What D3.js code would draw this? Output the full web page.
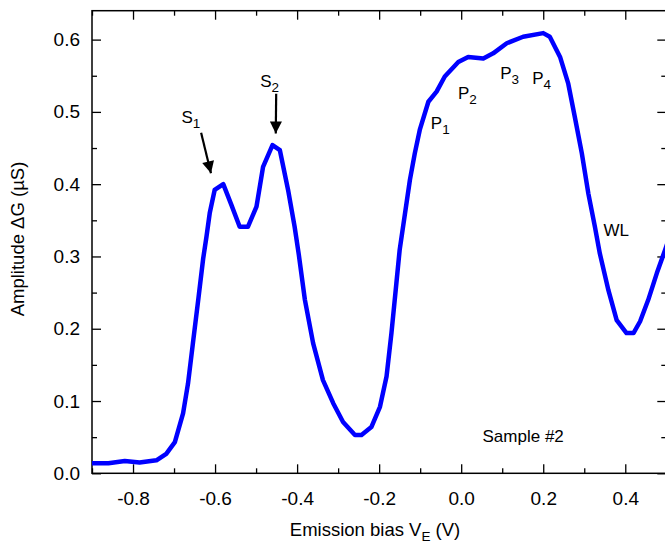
<!DOCTYPE html>
<html>
<head>
<meta charset="utf-8">
<script src="https://cdn.jsdelivr.net/npm/d3@7"></script>
<style>
    body { margin: 0; background: #fff; }
    svg { display: block; font-family: "Liberation Sans", Arial, sans-serif; }
    .axis path, .axis line { stroke: #000; stroke-width: 1.3; }
    .tick-label { font-size: 19px; fill: #000; }
    .title { font-size: 18.5px; fill: #000; }
    .note { font-size: 17px; fill: #000; }
</style>
</head>
<body>
<svg id="chart"></svg>
<script>
const MARGIN = { top: 10.7, right: -1, bottom: 72.7, left: 92 }
const width = 665, height = 546

// emission bias (V) and amplitude (uS)
const biasV = [-0.900, -0.860, -0.820, -0.784, -0.743, -0.719, -0.698, -0.678, -0.666, -0.654,
    -0.641, -0.629, -0.621, -0.613, -0.601, -0.580, -0.560, -0.540, -0.520, -0.499,
    -0.483, -0.460, -0.442, -0.422, -0.406, -0.396, -0.381, -0.361, -0.337, -0.312,
    -0.288, -0.259, -0.243, -0.219, -0.198, -0.182, -0.170, -0.158, -0.150, -0.125,
    -0.113, -0.101, -0.080, -0.060, -0.040, -0.007, 0.017, 0.054, 0.078, 0.111,
    0.151, 0.200, 0.216, 0.241, 0.261, 0.277, 0.294, 0.310, 0.326, 0.338,
    0.359, 0.379, 0.403, 0.420, 0.436, 0.456, 0.477, 0.497, 0.510]
const amplitude = [0.014, 0.014, 0.017, 0.015, 0.018, 0.027, 0.043, 0.083, 0.124, 0.180,
    0.240, 0.297, 0.327, 0.360, 0.392, 0.400, 0.371, 0.341, 0.341, 0.369,
    0.424, 0.454, 0.447, 0.392, 0.341, 0.303, 0.240, 0.180, 0.129, 0.097,
    0.071, 0.053, 0.053, 0.064, 0.092, 0.134, 0.194, 0.263, 0.309, 0.406,
    0.443, 0.475, 0.514, 0.528, 0.549, 0.569, 0.576, 0.574, 0.581, 0.595,
    0.604, 0.609, 0.604, 0.576, 0.539, 0.493, 0.443, 0.387, 0.341, 0.304,
    0.253, 0.212, 0.194, 0.194, 0.210, 0.240, 0.277, 0.309, 0.330]

const xTicks = [-0.8, -0.6, -0.4, -0.2, 0.0, 0.2, 0.4]
const xMinor = [-0.9, -0.7, -0.5, -0.3, -0.1, 0.1, 0.3, 0.5]
const yTicks = [0.0, 0.1, 0.2, 0.3, 0.4, 0.5, 0.6]
const yMinor = [0.05, 0.15, 0.25, 0.35, 0.45, 0.55]

// peak labels: [main, subscript, bias, amplitude]
const peakLabels = [
    ['S', '1', -0.682, 0.485],
    ['S', '2', -0.49, 0.535],
    ['P', '1', -0.074, 0.477],
    ['P', '2', -0.008, 0.518],
    ['P', '3', 0.095, 0.546],
    ['P', '4', 0.173, 0.538]
]
// arrows: [fromBias, fromAmp, toBias, toAmp]
const arrows = [
    [-0.634, 0.471, -0.610, 0.415],
    [-0.451, 0.525, -0.452, 0.470]
]

const boundedWidth = 666.3 - MARGIN.left
const boundedHeight = 473.3 - MARGIN.top

const $svg = d3.select('#chart').attr('width', width).attr('height', height)
const xScale = d3.scaleLinear().domain([-0.9, 0.5]).range([0, boundedWidth])
const yScale = d3.scaleLinear().domain([0, 0.64]).range([boundedHeight, 0])
const fmt = d => d3.format('.1f')(d).replace('\u2212', '-')

function drawChart() {
    const defs = $svg.append('defs')
    defs.append('clipPath').attr('id', 'clip')
        .append('rect').attr('width', boundedWidth).attr('height', boundedHeight)
    defs.append('marker')
        .attr('id', 'head')
        .attr('viewBox', '0 0 10 10')
        .attr('refX', 10).attr('refY', 5)
        .attr('markerWidth', 6).attr('markerHeight', 5.5)
        .attr('markerUnits', 'strokeWidth')
        .attr('orient', 'auto')
        .append('path').attr('d', 'M0,0 L10,5 L0,10 Z').attr('fill', '#000')

    const g = $svg.append('g').attr('transform', `translate(${MARGIN.left}, ${MARGIN.top})`)

    // axes, ticks pointing inward, frame on all sides
    const mk = (axis, scale, vals, size) => axis(scale).tickValues(vals).tickSize(size).tickFormat('').tickSizeOuter(0)
    g.append('g').attr('class', 'axis').attr('transform', `translate(0, ${boundedHeight})`)
        .call(d3.axisTop(xScale).tickValues(xTicks).tickSize(9).tickFormat(fmt).tickSizeOuter(0))
        .call(s => s.selectAll('text').attr('class', 'tick-label').attr('y', 18).attr('dy', '0.71em'))
    g.append('g').attr('class', 'axis').attr('transform', `translate(0, ${boundedHeight})`)
        .call(mk(d3.axisTop, xScale, xMinor, 5))
    g.append('g').attr('class', 'axis').call(mk(d3.axisBottom, xScale, xTicks, 9))
    g.append('g').attr('class', 'axis').call(mk(d3.axisBottom, xScale, xMinor, 5))

    g.append('g').attr('class', 'axis')
        .call(d3.axisRight(yScale).tickValues(yTicks).tickSize(9).tickFormat(fmt).tickSizeOuter(0))
        .call(s => s.selectAll('text').attr('class', 'tick-label').attr('x', -12).attr('text-anchor', 'end'))
    g.append('g').attr('class', 'axis').call(mk(d3.axisRight, yScale, yMinor, 5))
    g.append('g').attr('class', 'axis').attr('transform', `translate(${boundedWidth}, 0)`)
        .call(mk(d3.axisLeft, yScale, yTicks, 9))
    g.append('g').attr('class', 'axis').attr('transform', `translate(${boundedWidth}, 0)`)
        .call(mk(d3.axisLeft, yScale, yMinor, 5))
    g.selectAll('.domain').remove()
    g.append('rect')
        .attr('width', boundedWidth).attr('height', boundedHeight)
        .attr('fill', 'none').attr('stroke', '#000').attr('stroke-width', 1.5)

    // curve
    const data = biasV.map((v, i) => ({ v, a: amplitude[i] }))
    const lineGen = d3.line()
        .x(d => xScale(d.v))
        .y(d => yScale(d.a))
    g.append('path')
        .datum(data)
        .attr('clip-path', 'url(#clip)')
        .attr('d', lineGen)
        .attr('fill', 'none')
        .attr('stroke', '#0000ff')
        .attr('stroke-width', 4.5)
        .attr('stroke-linejoin', 'round')

    // arrows
    g.selectAll('.arrow')
        .data(arrows)
        .enter()
        .append('line')
        .attr('class', 'arrow')
        .attr('x1', d => xScale(d[0])).attr('y1', d => yScale(d[1]))
        .attr('x2', d => xScale(d[2])).attr('y2', d => yScale(d[3]))
        .attr('stroke', '#000').attr('stroke-width', 2.2)
        .attr('marker-end', 'url(#head)')

    // peak labels with subscripts
    const lbl = g.selectAll('.peak')
        .data(peakLabels)
        .enter()
        .append('text')
        .attr('class', 'note')
        .attr('x', d => xScale(d[2]))
        .attr('y', d => yScale(d[3]))
    lbl.append('tspan').text(d => d[0])
    lbl.append('tspan').attr('dy', 5).attr('font-size', 13.5).text(d => d[1])

    g.append('text').attr('class', 'note').attr('font-size', 16)
        .attr('x', xScale(0.347)).attr('y', yScale(0.328)).text('WL')
    g.append('text').attr('class', 'note').attr('font-size', 16.5)
        .attr('x', xScale(0.052)).attr('y', yScale(0.043)).text('Sample #2')

    // axis titles
    const xt = $svg.append('text').attr('class', 'title')
        .attr('x', MARGIN.left + xScale(-0.21)).attr('y', 536)
        .attr('text-anchor', 'middle')
    xt.append('tspan').text('Emission bias V')
    xt.append('tspan').attr('dy', 5).attr('font-size', 13.5).text('E')
    xt.append('tspan').attr('dy', -5).text(' (V)')

    $svg.append('text').attr('class', 'title')
        .attr('transform', `translate(24, ${MARGIN.top + boundedHeight / 2 - 3}) rotate(-90)`)
        .attr('text-anchor', 'middle')
        .text('Amplitude \u0394G (\u00b5S)')
}

drawChart()
</script>
</body>
</html>
